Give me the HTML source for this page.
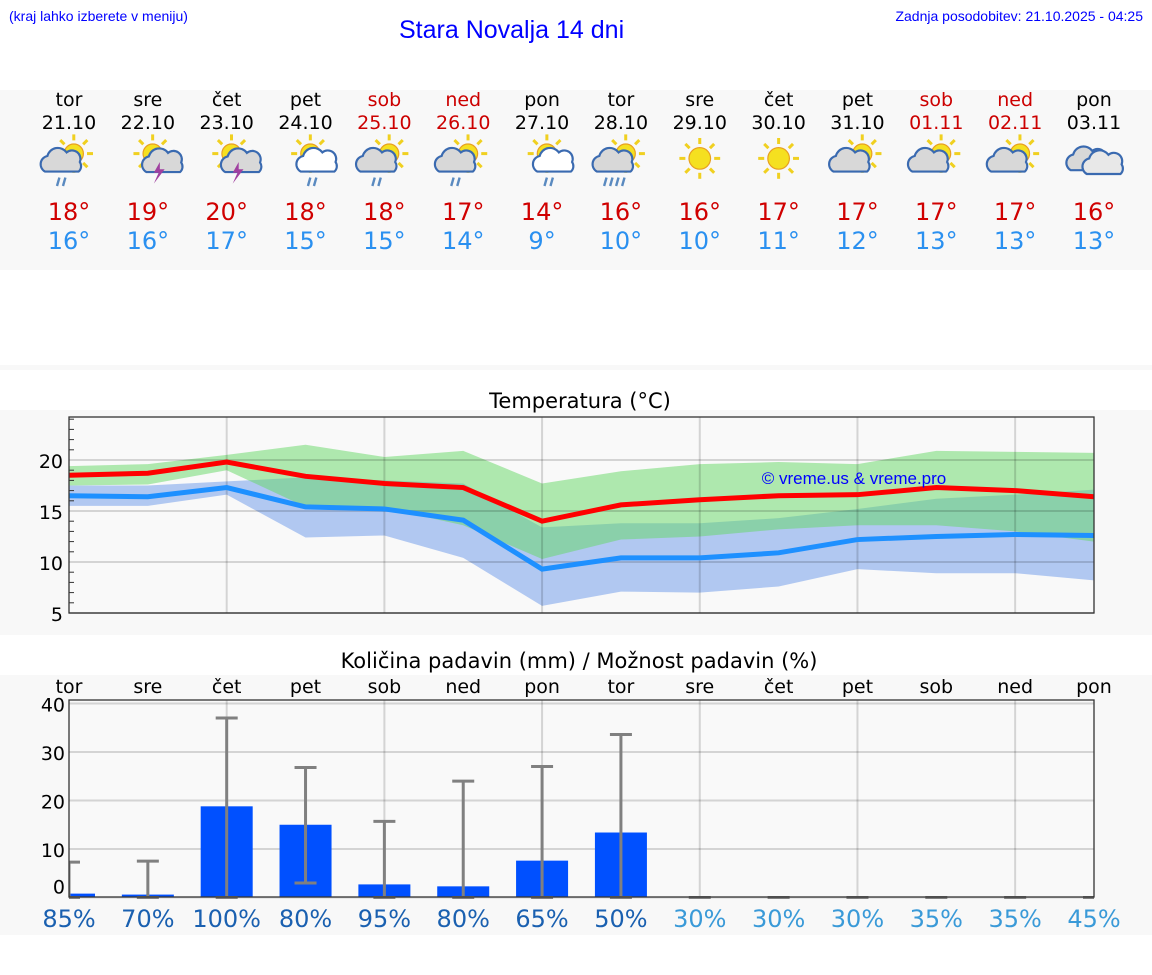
<!DOCTYPE html>
<html><head><meta charset="utf-8">
<style>
body{margin:0;width:1152px;height:975px;background:#fff;font-family:"Liberation Sans","DejaVu Sans",sans-serif;overflow:hidden;position:relative}
.abs{position:absolute}
</style></head>
<body>
<div class="abs" style="left:9px;top:8px;font-size:14px;color:#00f">(kraj lahko izberete v meniju)</div>
<div class="abs" style="left:399px;top:16px;font-size:25px;color:#00f">Stara Novalja 14 dni</div>
<div class="abs" style="right:9px;top:8px;font-size:14px;color:#00f">Zadnja posodobitev: 21.10.2025 - 04:25</div>
<div class="abs" style="left:0;top:90px;width:1152px;height:180px;background:#f8f8f8"></div>
<div class="abs" style="left:0;top:365px;width:1152px;height:5px;background:#f8f8f8"></div>
<div class="abs" style="left:0;top:410px;width:1152px;height:225px;background:#f8f8f8"></div>
<div class="abs" style="left:0;top:675px;width:1152px;height:260px;background:#f8f8f8"></div>
<svg id="svg" class="abs" style="left:0;top:0" width="1152" height="975"></svg>
<script>
const days=["tor","sre","čet","pet","sob","ned","pon","tor","sre","čet","pet","sob","ned","pon"];
const dates=["21.10","22.10","23.10","24.10","25.10","26.10","27.10","28.10","29.10","30.10","31.10","01.11","02.11","03.11"];
const weekend=[0,0,0,0,1,1,0,0,0,0,0,1,1,0];
const icons=["cr","st","st","sr","cr","cr","sr","cr2","s","s","cs","cs","cs","c"];
const hiT=[18,19,20,18,18,17,14,16,16,17,17,17,17,16];
const loT=[16,16,17,15,15,14,9,10,10,11,12,13,13,13];
const maxLine=[18.5,18.7,19.8,18.4,17.7,17.3,14.0,15.6,16.1,16.5,16.6,17.3,17.0,16.4];
const minLine=[16.5,16.4,17.3,15.4,15.2,14.1,9.3,10.4,10.4,10.9,12.2,12.5,12.7,12.6];
const greenHi=[19.4,19.6,20.5,21.5,20.3,20.9,17.7,18.9,19.6,19.8,19.6,20.9,20.8,20.7];
const greenLo=[17.5,17.6,19.0,15.4,15.3,13.6,10.3,12.2,12.5,13.2,13.6,13.6,13.0,12.0];
const blueHi=[17.5,17.5,17.9,18.3,18.0,17.7,13.4,13.8,13.8,14.3,15.2,16.2,16.6,17.1];
const blueLo=[15.5,15.5,16.6,12.4,12.6,10.4,5.7,7.1,7.0,7.6,9.3,8.9,8.9,8.2];
const tTicks=[5,10,15,20];
const rain=[0.8,0.6,18.8,15.0,2.7,2.3,7.6,13.4,0,0,0,0,0,0];
const rainLo=[0,0,0,3,0,0,0,0,0,0,0,0,0,0];
const rainHi=[7.3,7.5,37,26.8,15.7,24,27,33.6,0,0,0,0,0,0];
const prob=[85,70,100,80,95,80,65,50,30,30,30,35,35,45];
const pTicks=[0,10,20,30,40];

const NS="http://www.w3.org/2000/svg",svg=document.getElementById('svg');
const DJ='DejaVu Sans, Liberation Sans, sans-serif';
function el(t,a,p){const e=document.createElementNS(NS,t);for(const k in a)e.setAttribute(k,a[k]);(p||svg).appendChild(e);return e;}
function txt(x,y,s,a,p){const e=el('text',Object.assign({x:x,y:y,'text-anchor':'middle','font-family':DJ},a),p);e.textContent=s;return e;}
const X0=69,X1=1094,xs=i=>X0+i*(X1-X0)/13;
const ty=v=>613-(v-5)*10.2;
const py=v=>897.5-v*4.85;

const defs=el('defs',{});
const cp=el('clipPath',{id:'pclip'},defs);
el('rect',{x:X0,y:690,width:X1-X0,height:215},cp);

days.forEach((d,i)=>{
  const c=weekend[i]?'#c00':'#000';
  let t=txt(xs(i),106,d,{'font-size':19,fill:c});
  
  
  t=txt(xs(i),129,dates[i],{'font-size':19,fill:c});
  
  
  const g=el('g',{transform:`translate(${xs(i)},162) scale(1.2)`});
  
  
  const ic=icons[i];
  function sun(cx,cy,r){for(let k=0;k<8;k++){const a=k*Math.PI/4;el('line',{x1:cx+Math.cos(a)*(r+3),y1:cy+Math.sin(a)*(r+3),x2:cx+Math.cos(a)*(r+8),y2:cy+Math.sin(a)*(r+8),stroke:'#f0d020','stroke-width':2.5},g);}el('circle',{cx:cx,cy:cy,r:r,fill:'#f5e020',stroke:'#e8a020','stroke-width':1},g);}
  function cloud(cx,cy,s,f){el('path',{d:`M${cx-14*s},${cy+8*s} a7,7 0 0 1 2,-13 a9,9 0 0 1 16,-3 a7,7 0 0 1 11,8 a6,6 0 0 1 -1,8 z`,fill:f,stroke:'#3a6ab0','stroke-width':1.8},g);}
  if(ic==='c'){cloud(-4,-2,1.1,'#d8d8d8');cloud(8,2,1,'#e8e8e8');}
  else if(ic==='s'){sun(0,-3,9);}
  else {sun(4,-7,8);
    if(ic==='st'){cloud(10,2,0.8,'#d8d8d8');el('path',{d:'M10,0 l-5,9 h4 l-4,9 l9,-12 h-4 z',fill:'#a040a0'},g);}
    else if(ic==='sr'){cloud(10,0,1,'#fff');el('path',{d:'M4,13 l-2,7 M9,13 l-2,7',stroke:'#5a8ac0','stroke-width':2},g);}
    else {cloud(-6,0,1,'#d8d8d8');
      if(ic==='cr')el('path',{d:'M-8,13 l-2,7 M-3,13 l-2,7',stroke:'#5a8ac0','stroke-width':2},g);
      if(ic==='cr2')el('path',{d:'M-12,13 l-2,7 M-7,13 l-2,7 M-2,13 l-2,7 M3,13 l-2,7',stroke:'#5a8ac0','stroke-width':2},g);}
  }
  t=txt(xs(i),220,hiT[i]+'°',{'font-size':24,fill:'#d00000'});
  
  
  t=txt(xs(i),249,loT[i]+'°',{'font-size':24,fill:'#2a90f0'});
  
  
});

let t=txt(580,408,'Temperatura (°C)',{'font-size':21,fill:'#000'});


let r=el('rect',{x:X0,y:417,width:X1-X0,height:196,fill:'#f9f9f9'});


function band(hi,lo,fill,name){const pts=hi.map((v,i)=>xs(i)+','+ty(v)).concat(lo.map((v,i)=>xs(i)+','+ty(v)).reverse());const p=el('polygon',{points:pts.join(' '),fill:fill});}
band(blueHi,blueLo,'rgba(60,120,230,0.38)','min-temp-range');
band(greenHi,greenLo,'rgba(100,215,100,0.5)','max-temp-range');
for(let i=2;i<13;i+=2)el('line',{x1:xs(i),y1:417,x2:xs(i),y2:613,stroke:'rgba(0,0,0,0.15)','stroke-width':2});
tTicks.forEach(v=>{el('line',{x1:X0,y1:ty(v),x2:X1,y2:ty(v),stroke:'rgba(0,0,0,0.15)','stroke-width':2});const l=txt(63,ty(v)+8,String(v),{'font-size':19,'text-anchor':'end'});});
for(let v=6;v<=24;v++)if(v%5)el('line',{x1:X0,y1:ty(v),x2:X0+5,y2:ty(v),stroke:'#333'});
function line(arr,c,name){const p=el('polyline',{points:arr.map((v,i)=>xs(i)+','+ty(v)).join(' '),fill:'none',stroke:c,'stroke-width':5});}
line(maxLine,'#ff0000','max-temp-line');
line(minLine,'#1e90ff','min-temp-line');
el('rect',{x:X0,y:417,width:X1-X0,height:196,fill:'none',stroke:'#333','stroke-width':1.3});
t=txt(854,484,'© vreme.us & vreme.pro',{'font-size':17,fill:'#00f','font-family':'Liberation Sans, sans-serif'});



t=txt(579,668,'Količina padavin (mm) / Možnost padavin (%)',{'font-size':21,fill:'#000'});


r=el('rect',{x:X0,y:700,width:X1-X0,height:197,fill:'#f9f9f9'});


for(let i=2;i<13;i+=2)el('line',{x1:xs(i),y1:700,x2:xs(i),y2:897,stroke:'rgba(0,0,0,0.15)','stroke-width':2});
pTicks.forEach(v=>{el('line',{x1:X0,y1:py(v),x2:X1,y2:py(v),stroke:'rgba(0,0,0,0.15)','stroke-width':2});const l=txt(65,py(v)+(v===0?-4:8),String(v),{'font-size':19,'text-anchor':'end'});});
const pg=el('g',{'clip-path':'url(#pclip)'});
rain.forEach((v,i)=>{
  const b=el('rect',{x:xs(i)-26,y:py(v),width:52,height:897.5-py(v),fill:'#0050ff'},pg);
  
  
  const e=el('path',{d:`M${xs(i)},${py(rainLo[i])} V${py(rainHi[i])} M${xs(i)-11},${py(rainHi[i])} h22 M${xs(i)-11},${py(rainLo[i])} h22`,stroke:'#808080','stroke-width':3,fill:'none'},pg);
  
  
  let l=txt(xs(i),693,days[i],{'font-size':19,fill:'#000'});
  
  
  l=txt(xs(i),927,prob[i]+'%',{'font-size':24,fill:i<8?'#1a60b0':'#3a9ad8'});
  
  
});
el('rect',{x:X0,y:700,width:X1-X0,height:197,fill:'none',stroke:'#333','stroke-width':1.3});
</script>
</body></html>
